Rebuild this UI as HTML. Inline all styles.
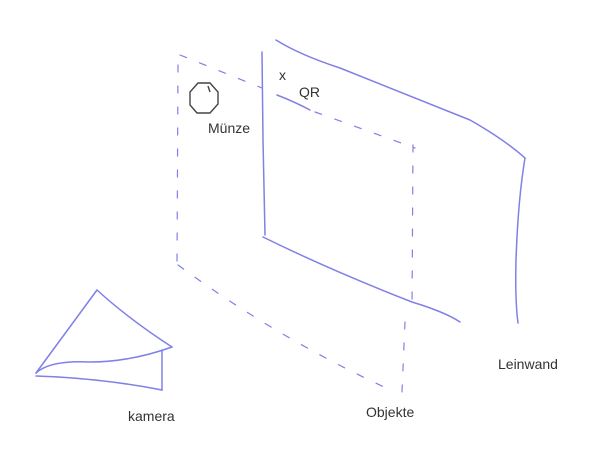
<!DOCTYPE html>
<html><head><meta charset="utf-8"><style>
html,body{margin:0;padding:0;background:#fff;width:596px;height:462px;overflow:hidden}
svg{display:block}
text{font-family:"Liberation Sans",sans-serif;fill:#333;font-size:14px}
.s{fill:none;stroke:#8080e6;stroke-width:1.5;stroke-linecap:round;stroke-linejoin:round}
.d{fill:none;stroke:#8080e6;stroke-width:1.2;stroke-dasharray:7 14;stroke-linecap:round}
.k{fill:none;stroke:#444;stroke-width:1.4}
</style></head><body>
<svg width="596" height="462" viewBox="0 0 596 462">
<g>
<path class="s" d="M276 40 Q300 55 340 68 Q420 100 470 120 Q505 140 525 158"/>
<path class="s" d="M525 158 Q518 200 516 260 Q515 300 518 323"/>
<path class="s" d="M262 52 L263 140 L265 235"/>
<path class="s" d="M263 237 Q330 270 412 302 Q445 312 460 322"/>
</g>
<g>
<path class="d" d="M180 55 L262 88"/>
<path class="s" d="M277 95 Q295 102 310 110"/>
<path class="d" d="M315 112 L415 148"/>
<path class="d" d="M178 65 L177 265"/>
<path class="d" d="M178 265 Q280 340 395 392"/>
<path class="d" d="M413 145 L412 310"/>
<path class="d" d="M405 322 L402 392"/>
</g>
<g>
<path class="s" d="M97 290 L36 373"/>
<path class="s" d="M97 290 Q130 320 172 347"/>
<path class="s" d="M36 373 Q50 360 90 362 Q130 362 172 347"/>
<path class="s" d="M36 376 Q100 378 162 390"/>
<path class="s" d="M162 350 L162 390"/>
</g>
<path class="k" d="M198 83 L210 83 L218 92 L218 104 L210 113 L197 113 L190 105 L190 92 Z M208 86 L210 92"/>
<text x="208" y="133">Münze</text>
<text x="279" y="80" font-size="16">x</text>
<text x="299" y="97" font-size="12">QR</text>
<text x="128" y="421">kamera</text>
<text x="366" y="417">Objekte</text>
<text x="498" y="369">Leinwand</text>
</svg>
</body></html>
